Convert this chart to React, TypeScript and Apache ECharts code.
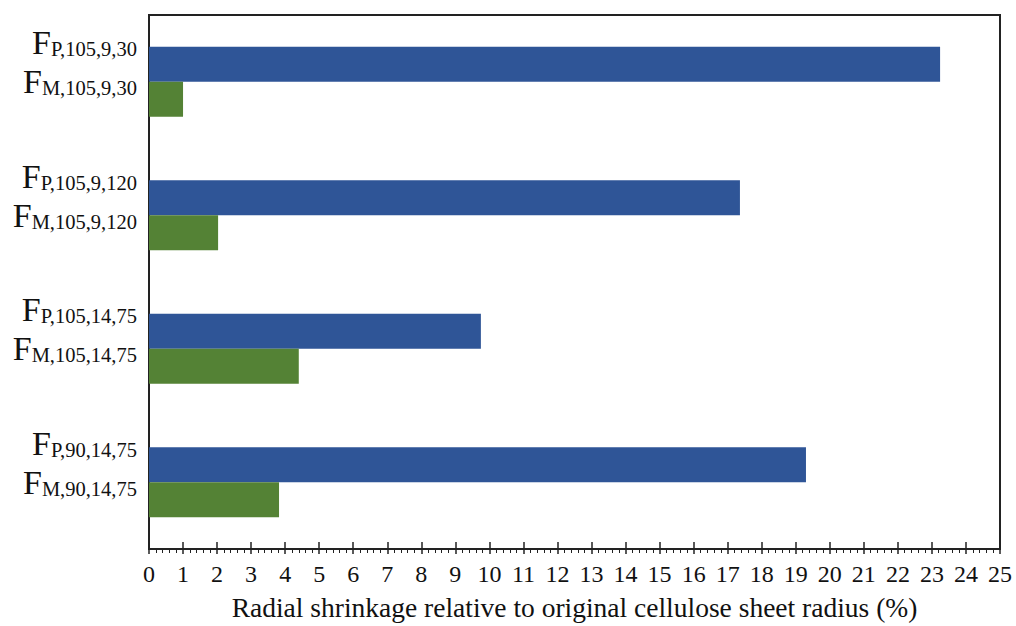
import React, { useEffect, useRef } from "react";
import * as echarts from "echarts";

const categories = ["105,9,30", "105,9,120", "105,14,75", "90,14,75"];
const pValues = [23.24, 17.36, 9.75, 19.3];
const mValues = [1.0, 2.03, 4.4, 3.82];
const xMin = 0;
const xMax = 25;

export default function App() {
  const ref = useRef<HTMLDivElement>(null);
  useEffect(() => {
    if (!ref.current) return;
    const chart = echarts.init(ref.current, undefined, { renderer: "svg" });
    const font = "Liberation Serif";
    chart.setOption({
      animation: false,
      textStyle: { fontFamily: font },
      grid: {
        left: 149,
        right: 16,
        top: 15,
        bottom: 76,
        show: true,
        borderColor: "#222",
        borderWidth: 2,
      },
      xAxis: [
        {
          type: "value",
          min: xMin,
          max: xMax,
          interval: 1,
          name: "Radial shrinkage relative to original cellulose sheet radius (%)",
          nameLocation: "middle",
          nameGap: 44,
          nameTextStyle: { fontFamily: font, fontSize: 27.5, color: "#111" },
          axisLine: { show: true, lineStyle: { color: "#222", width: 2 } },
          axisTick: { show: true, length: 5, lineStyle: { color: "#222", width: 1.5 } },
          minorTick: { show: true, splitNumber: 5, length: 4, lineStyle: { color: "#222", width: 1 } },
          axisLabel: { fontFamily: font, fontSize: 24, color: "#111", margin: 13 },
          splitLine: { show: false },
        },
        {
          type: "value",
          min: xMin,
          max: xMax,
          interval: 1,
          position: "bottom",
          axisLine: { show: false },
          axisTick: { show: true, inside: true, length: 7, lineStyle: { color: "#222", width: 1.5 } },
          axisLabel: { show: false },
          splitLine: { show: false },
        },
      ],
      yAxis: {
        type: "category",
        data: categories,
        inverse: true,
        axisLine: { show: true, lineStyle: { color: "#222", width: 2 } },
        axisTick: { show: false },
        axisLabel: {
          margin: 12,
          padding: [0, 0, 44, 0],
          formatter: (v: string) => `{F|F}{s|P,${v}}\n{F|F}{s|M,${v}}`,
          rich: {
            F: { fontFamily: font, fontSize: 34, lineHeight: 39, verticalAlign: "bottom", color: "#111" },
            s: { fontFamily: font, fontSize: 20.5, lineHeight: 16, verticalAlign: "bottom", color: "#111" },
          },
        },
      },
      series: [
        {
          type: "bar",
          name: "P",
          data: pValues,
          barWidth: 35,
          barGap: "0%",
          itemStyle: { color: "#2F5597" },
        },
        {
          type: "bar",
          name: "M",
          data: mValues,
          barWidth: 35,
          barGap: "0%",
          itemStyle: { color: "#548235" },
        },
      ],
    });
    return () => chart.dispose();
  }, []);
  return (
    <div
      ref={ref}
      style={{ position: "fixed", left: 0, top: 0, width: 1016, height: 626, background: "#fff" }}
    />
  );
}
